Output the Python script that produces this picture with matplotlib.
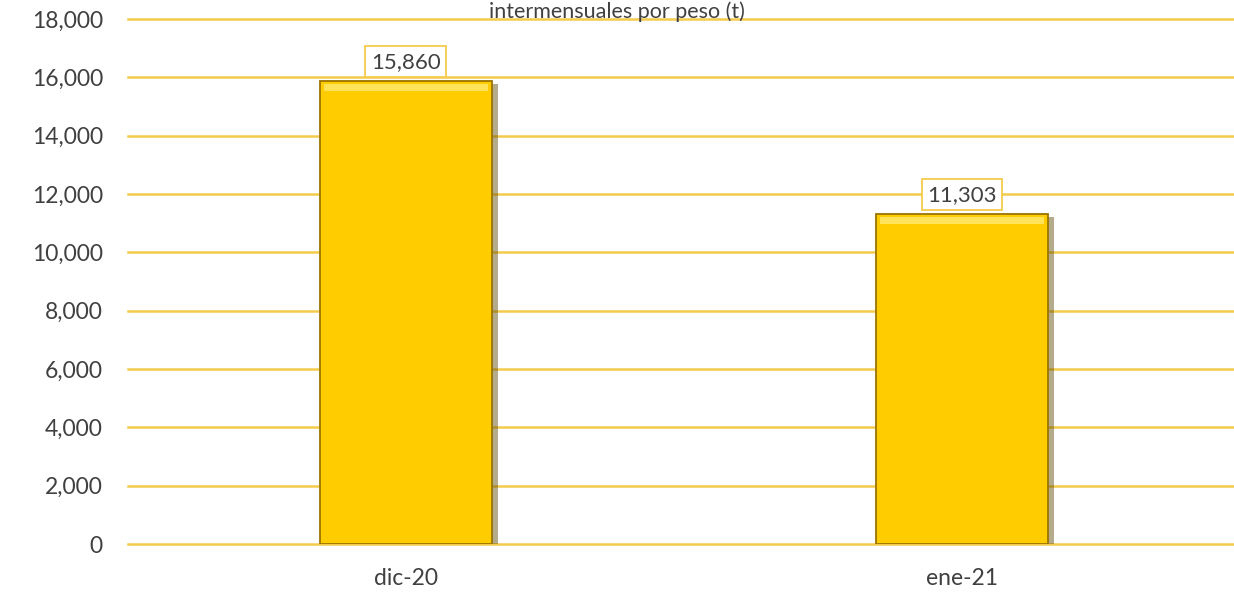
import matplotlib

matplotlib.use("Agg")

import matplotlib.pyplot as plt
from matplotlib.ticker import FuncFormatter

months = ["dic-20", "ene-21"]
weights = [15860, 11303]
title = "intermensuales por peso (t)"

plt.rcParams["font.family"] = ["Lato", "DejaVu Sans"]

fig = plt.figure(figsize=(12.34, 5.99), dpi=100)
ax = fig.add_axes([0.1037, 0.0918, 0.901, 0.8765])

gold = "#FFCC00"
grid_gold = "#F4CB4C"
text_col = "#404040"

x = list(range(len(months)))
bar_w = 0.31

# shadow behind the bars (bevel look)
ax.bar([i + 0.01 for i in x], weights, width=bar_w, bottom=-100,
       color="#5A4500", alpha=0.45, zorder=2, linewidth=0)
ax.bar(x, weights, width=bar_w, color=gold, edgecolor="#9A7400",
       linewidth=1.3, zorder=3)
# top highlight strip
ax.bar(x, [230] * len(x), width=bar_w * 0.95, bottom=[w - 330 for w in weights],
       color="#FFE35A", linewidth=0, zorder=4)

for i, w in zip(x, weights):
    ax.annotate(f"{w:,}", (i, w), xytext=(0, 7), textcoords="offset points",
                ha="center", va="bottom", fontsize=16, color=text_col,
                bbox=dict(boxstyle="square,pad=0.25", fc="white", ec=grid_gold, lw=1.3),
                zorder=6)

ax.set_xlim(-0.5, 1.5)
ax.set_ylim(0, 18000)
ax.set_yticks(range(0, 18001, 2000))
ax.yaxis.set_major_formatter(FuncFormatter(lambda v, _: f"{int(v):,}"))
ax.set_xticks(x)
ax.set_xticklabels(months)
ax.tick_params(axis="both", length=0, labelsize=16.5, labelcolor=text_col)
ax.tick_params(axis="y", pad=18)
ax.tick_params(axis="x", pad=17)

ax.grid(axis="y", color=grid_gold, linewidth=1.8, zorder=1)
for gl in ax.get_ygridlines():
    gl.set_clip_on(False)
ax.set_axisbelow(True)
for spine in ax.spines.values():
    spine.set_visible(False)

fig.text(0.5, 1 - 1 / 599, title, ha="center", va="top",
         fontsize=15.5, color=text_col)

fig.savefig("out.png", dpi=100)
plt.close(fig)
